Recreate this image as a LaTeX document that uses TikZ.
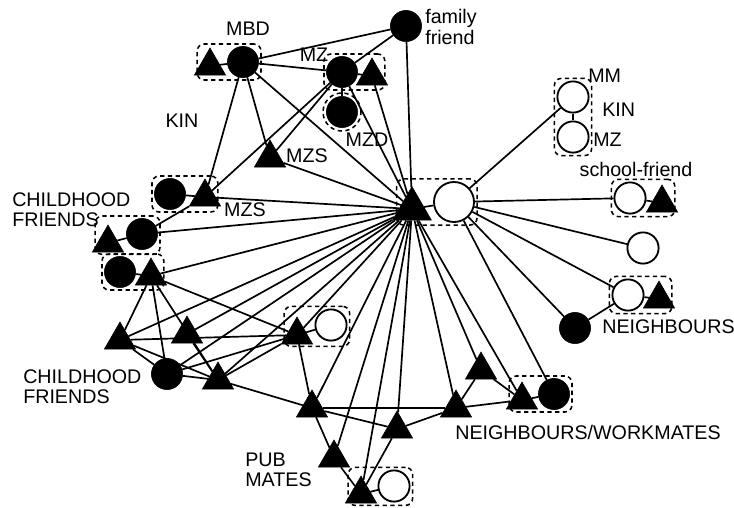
\documentclass[tikz,border=0pt]{standalone}
\usepackage{fontspec}
\setmainfont{Liberation Sans}
\usetikzlibrary{shapes.geometric,fit}

\begin{document}
\begin{tikzpicture}[x=0.025cm, y=-0.025cm,
            male/.style={regular polygon, regular polygon sides=3, fill, draw, inner sep=0pt, minimum size=0.9cm},
            fem/.style={circle, fill, draw, inner sep=0pt, minimum size=0.78cm},
            femo/.style={circle, draw, fill=white, line width=1.3pt, inner sep=0pt, minimum size=0.78cm},
            grp/.style={draw, dash pattern=on 3pt off 2.5pt, line width=1.1pt, rounded corners=5pt, inner sep=1.5pt},
            lbl/.style={inner sep=0pt, align=left, font=\fontsize{14}{14.5}\selectfont},
            tie/.style={line width=1.2pt}]
            \useasboundingbox (0,0) rectangle (734,507);
            \node[male, minimum size=1.12cm] (ego) at (412,209) {};
            \node[femo, minimum size=1cm] (sp) at (454,202) {};
            \node[fem] (ff) at (406,26) {};
            \node[male] (mbdm) at (210,66) {};
            \node[fem] (mbd) at (243,62) {};
            \node[fem] (mz) at (342,72) {};
            \node[male] (mzh) at (372,76) {};
            \node[fem] (mzd) at (342,112) {};
            \node[male] (mzs) at (270,158) {};
            \node[fem] (mzs2w) at (170,194) {};
            \node[male] (mzs2) at (205,197) {};
            \node[male] (cfa) at (108,243) {};
            \node[fem] (cfb) at (142,234) {};
            \node[fem] (cfc) at (120,272) {};
            \node[male] (cfd) at (151,276) {};
            \node[male] (ca) at (120,340) {};
            \node[male] (cb) at (187,334) {};
            \node[male] (pm) at (297,335) {};
            \node[femo] (pmw) at (331,325) {};
            \node[fem] (cc) at (167,374) {};
            \node[male] (cd) at (218,380) {};
            \node[male] (pa) at (312,408) {};
            \node[male] (pb) at (397,429) {};
            \node[male] (pc) at (334,458) {};
            \node[male] (pd) at (361,494) {};
            \node[femo] (pdw) at (394,486) {};
            \node[male] (na) at (456,408) {};
            \node[male] (nb) at (481,370) {};
            \node[male] (nw) at (522,400) {};
            \node[fem] (nww) at (554,394) {};
            \node[femo] (mm) at (573,97) {};
            \node[femo] (rmz) at (573,137) {};
            \node[femo] (sf) at (630,198) {};
            \node[male] (sfh) at (662,203) {};
            \node[femo] (ob) at (643,248) {};
            \node[femo] (nc) at (628,295) {};
            \node[male] (nch) at (659,299) {};
            \node[fem] (nf) at (575,328) {};

            \node[grp, fit=(ego)(sp)] (gego) {};
            \node[grp, fit=(mbdm)(mbd)] (gmbd) {};
            \node[grp, fit=(mz)(mzh)] (gmz) {};
            \node[grp, circle, inner sep=0pt, minimum size=0.95cm] (gmzd) at (342,112) {};
            \node[grp, fit=(mzs2w)(mzs2)] (gmzs) {};
            \node[grp, fit=(cfa)(cfb)] (gcfa) {};
            \node[grp, fit=(cfc)(cfd)] (gcfc) {};
            \node[grp, fit=(pm)(pmw)] (gpm) {};
            \node[grp, fit=(pd)(pdw)] (gpd) {};
            \node[grp, fit=(nw)(nww)] (gnw) {};
            \node[grp, fit=(mm)(rmz)] (gkin) {};
            \node[grp, fit=(sf)(sfh)] (gsf) {};
            \node[grp, fit=(nc)(nch)] (gnc) {};

            \node[lbl] (tmbd) at (248,29) {MBD};
            \node[lbl, anchor=west] (tff) at (425,27) {family\\friend};
            \node[lbl] (tmz) at (314,55) {MZ};
            \node[lbl] (tkin) at (182,121) {KIN};
            \node[lbl] (tmzs) at (307,156) {MZS};
            \node[lbl] (tmzd) at (367,140) {MZD};
            \node[lbl] (tmzs2) at (245,210) {MZS};
            \node[lbl, anchor=west] (tcf1) at (12,210) {CHILDHOOD\\FRIENDS};
            \node[lbl, anchor=west] (tcf2) at (23,387) {CHILDHOOD\\FRIENDS};
            \node[lbl, anchor=west] (tpub) at (245,470) {PUB\\MATES};
            \node[lbl, anchor=west] (tnw) at (455,432) {NEIGHBOURS/WORKMATES};
            \node[lbl, anchor=west] (tnb) at (602,327) {NEIGHBOURS};
            \node[lbl, anchor=west] (tmm) at (588,76) {MM};
            \node[lbl, anchor=west] (tkin2) at (602,110) {KIN};
            \node[lbl, anchor=west] (tmz2) at (593,140) {MZ};
            \node[lbl] (tsf) at (636,169) {school-friend};

            \path[tie]  (mbdm) edge (mbd)
                        (mbd) edge (ff) edge (mz) edge (mzs) edge (ego) edge (mzs2)
                        (mz) edge (ff) edge (mzh) edge (mzd) edge (ego) edge (mzs2) edge (mzs)
                        (mzh) edge (ego)
                        (ff) edge (ego)
                        (mzs) edge (ego)
                        (mzs2w) edge (mzs2)
                        (mzs2) edge (ego)
                        (cfa) edge (cfb)
                        (cfb) edge (mzs2) edge (ego)
                        (cfc) edge (cfd)
                        (cfd) edge (ego) edge (ca) edge (cc) edge (cd) edge (pm)
                        (ca) edge (ego) edge (pm) edge (cc) edge (cd)
                        (cb) edge (ego) edge (cd)
                        (cc) edge (cd) edge (ego) edge (pm)
                        (cd) edge (ego) edge (pm) edge (pa)
                        (pm) edge (pmw) edge (ego) edge (pa)
                        (pa) edge (ego) edge (pc) edge (pb) edge (na)
                        (pc) edge (ego) edge (pd)
                        (pd) edge (pdw) edge (ego) edge (pb)
                        (pb) edge (ego) edge (na)
                        (na) edge (ego) edge (nb) edge (nw)
                        (nb) edge (ego) edge (nw)
                        (nw) edge (ego) edge (nww)
                        (sp) edge (ego) edge (mm) edge (sf) edge (ob) edge (nc) edge (nf) edge (nww)
                        (mm) edge (rmz)
                        (sf) edge (sfh)
                        (nc) edge (nch) edge (nf);
        \end{tikzpicture}
\end{document}
